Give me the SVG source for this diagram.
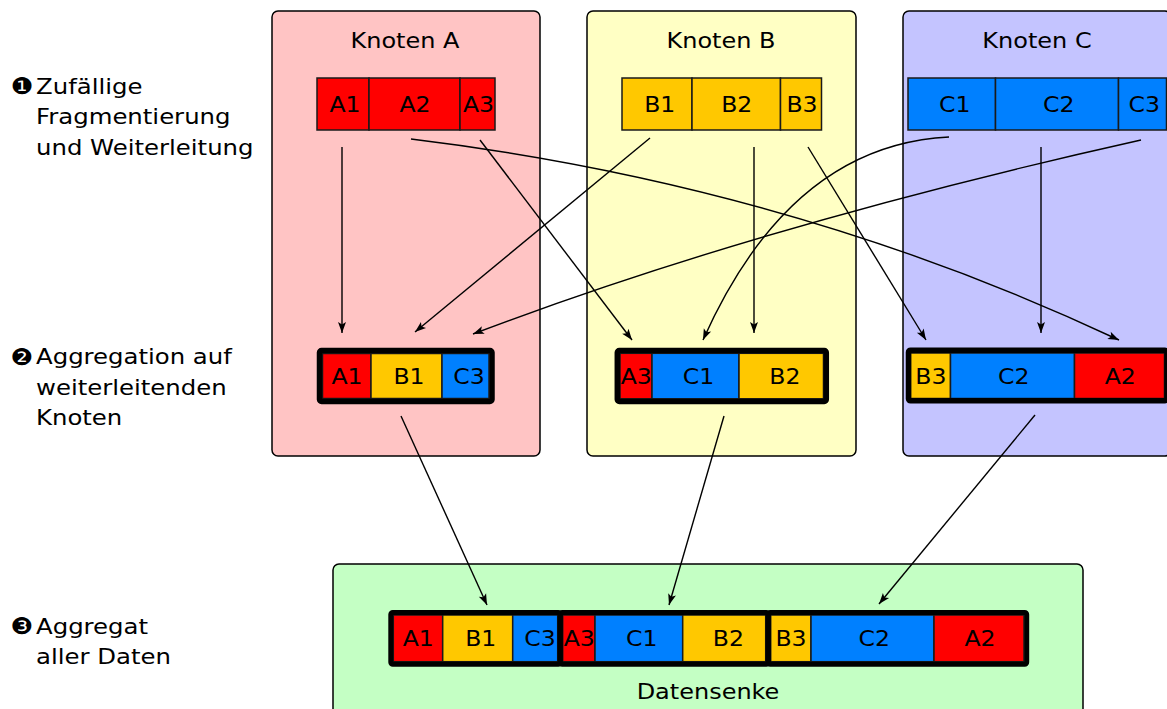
<svg xmlns="http://www.w3.org/2000/svg" width="1167" height="709" viewBox="0 0 1167 709">
  <style>
    text { font-family: "DejaVu Sans", "Liberation Sans", sans-serif; font-size: 20.5px; fill: #000; }
    .c { text-anchor: middle; }
    .step { font-size: 21.2px; }
    .bullet { font-size: 23px; }
    .node { stroke: #000; stroke-width: 1.5; }
    .frag { stroke: #1a1a1a; stroke-width: 1.5; }
    .agg { fill: none; stroke: #000; stroke-width: 5.5; stroke-linejoin: round; }
    .r { fill: #ff0000; }
    .y { fill: #ffc800; }
    .b { fill: #0080ff; }
    .edge { fill: none; stroke: #000; stroke-width: 1.4; marker-end: url(#arrow); }
  </style>
  <defs>
    <marker id="arrow" markerUnits="userSpaceOnUse" markerWidth="14" markerHeight="10" viewBox="-12 -5 14 10" refX="0" refY="0" orient="auto">
      <path d="M0,0 L-11,-4 L-8.5,0 L-11,4 Z" fill="#000"/>
    </marker>
  </defs>

  <rect width="1167" height="709" fill="#fff"/>

  <!-- step labels on the left -->
  <g id="labels">
    <text class="bullet" transform="translate(10.5,94) scale(1.1,1)">❶</text>
    <text class="step" transform="translate(36,93.5) scale(1.15,1)">Zufällige</text>
    <text class="step" transform="translate(36,124) scale(1.15,1)">Fragmentierung</text>
    <text class="step" transform="translate(36,154.5) scale(1.15,1)">und Weiterleitung</text>
    <text class="bullet" transform="translate(10.5,364.5) scale(1.1,1)">❷</text>
    <text class="step" transform="translate(36,364) scale(1.15,1)">Aggregation auf</text>
    <text class="step" transform="translate(36,394.5) scale(1.15,1)">weiterleitenden</text>
    <text class="step" transform="translate(36,425) scale(1.15,1)">Knoten</text>
    <text class="bullet" transform="translate(10.5,634) scale(1.1,1)">❸</text>
    <text class="step" transform="translate(36,633.5) scale(1.15,1)">Aggregat</text>
    <text class="step" transform="translate(36,664) scale(1.15,1)">aller Daten</text>
  </g>

  <!-- Knoten A -->
  <g id="knoten-a">
    <rect class="node" x="272" y="11" width="268" height="445" rx="6" fill="#ffc4c4"/>
    <text class="c" transform="translate(405,48) scale(1.17,1)">Knoten A</text>
    <rect class="frag r" x="317" y="78" width="52" height="52"/>
    <rect class="frag r" x="369" y="78" width="91" height="52"/>
    <rect class="frag r" x="460" y="78" width="35" height="52"/>
    <text class="c" transform="translate(345,112) scale(1.15,1)">A1</text>
    <text class="c" transform="translate(415,112) scale(1.15,1)">A2</text>
    <text class="c" transform="translate(478.5,112) scale(1.15,1)">A3</text>
    <rect class="frag r" x="322.5" y="353.5" width="48.5" height="45"/>
    <rect class="frag y" x="371" y="353.5" width="71" height="45"/>
    <rect class="frag b" x="442" y="353.5" width="47" height="45"/>
    <rect class="agg" x="319.5" y="350.5" width="172.5" height="51" rx="2"/>
    <text class="c" transform="translate(347,383.5) scale(1.15,1)">A1</text>
    <text class="c" transform="translate(409,383.5) scale(1.15,1)">B1</text>
    <text class="c" transform="translate(469,383.5) scale(1.15,1)">C3</text>
  </g>

  <!-- Knoten B -->
  <g id="knoten-b">
    <rect class="node" x="587" y="11" width="269" height="445" rx="6" fill="#ffffc4"/>
    <text class="c" transform="translate(721,48) scale(1.17,1)">Knoten B</text>
    <rect class="frag y" x="622" y="78" width="70" height="52"/>
    <rect class="frag y" x="692" y="78" width="88.5" height="52"/>
    <rect class="frag y" x="780.5" y="78" width="41" height="52" stroke="#555"/>
    <text class="c" transform="translate(659.7,112) scale(1.15,1)">B1</text>
    <text class="c" transform="translate(736.7,112) scale(1.15,1)">B2</text>
    <text class="c" transform="translate(802,112) scale(1.15,1)">B3</text>
    <rect class="frag r" x="620" y="353.3" width="32" height="45.5"/>
    <rect class="frag b" x="652" y="353.3" width="87" height="45.5"/>
    <rect class="frag y" x="739" y="353.3" width="84.5" height="45.5"/>
    <rect class="agg" x="617.3" y="350.5" width="209" height="51" rx="2"/>
    <text class="c" transform="translate(636.3,383.5) scale(1.15,1)">A3</text>
    <text class="c" transform="translate(698.5,383.5) scale(1.15,1)">C1</text>
    <text class="c" transform="translate(784.8,383.5) scale(1.15,1)">B2</text>
  </g>

  <!-- Knoten C -->
  <g id="knoten-c">
    <rect class="node" x="903" y="11" width="268" height="445" rx="6" fill="#c4c4ff"/>
    <text class="c" transform="translate(1037,48) scale(1.17,1)">Knoten C</text>
    <rect class="frag b" x="908" y="78" width="87.5" height="52"/>
    <rect class="frag b" x="995.5" y="78" width="123" height="52"/>
    <rect class="frag b" x="1118.5" y="78" width="48" height="52"/>
    <text class="c" transform="translate(954.7,112) scale(1.15,1)">C1</text>
    <text class="c" transform="translate(1058.7,112) scale(1.15,1)">C2</text>
    <text class="c" transform="translate(1144.3,112) scale(1.15,1)">C3</text>
    <rect class="frag y" x="910.5" y="353" width="40" height="45.5"/>
    <rect class="frag b" x="950.5" y="353" width="124" height="45.5"/>
    <rect class="frag r" x="1074.5" y="353" width="90" height="45.5"/>
    <rect class="agg" x="908.5" y="350.2" width="258.5" height="50.6" rx="2"/>
    <text class="c" transform="translate(930.8,384) scale(1.15,1)">B3</text>
    <text class="c" transform="translate(1013.8,384) scale(1.15,1)">C2</text>
    <text class="c" transform="translate(1120.3,384) scale(1.15,1)">A2</text>
  </g>

  <!-- Datensenke -->
  <g id="datensenke">
    <rect class="node" x="333" y="564" width="750" height="160" rx="6" fill="#c4ffc4"/>
    <text class="c" transform="translate(708,699) scale(1.17,1)">Datensenke</text>
    <rect class="frag r" x="393.3" y="615" width="49.4" height="46.7"/>
    <rect class="frag y" x="442.7" y="615" width="70" height="46.7"/>
    <rect class="frag b" x="512.7" y="615" width="45" height="46.7"/>
    <rect class="frag r" x="562.7" y="615" width="32.3" height="46.7"/>
    <rect class="frag b" x="595" y="615" width="87.7" height="46.7"/>
    <rect class="frag y" x="682.7" y="615" width="83" height="46.7"/>
    <rect class="frag y" x="770.7" y="615" width="40.3" height="46.7"/>
    <rect class="frag b" x="811" y="615" width="123" height="46.7"/>
    <rect class="frag r" x="934" y="615" width="90" height="46.7"/>
    <rect class="agg" x="390.8" y="612.5" width="169.4" height="51.7" rx="2" style="stroke-width:5"/>
    <rect class="agg" x="560.2" y="612.5" width="208" height="51.7" rx="2" style="stroke-width:5"/>
    <rect class="agg" x="768.2" y="612.5" width="258.5" height="51.7" rx="2" style="stroke-width:5"/>
    <text class="c" transform="translate(418.3,645.5) scale(1.15,1)">A1</text>
    <text class="c" transform="translate(480.7,645.5) scale(1.15,1)">B1</text>
    <text class="c" transform="translate(540,645.5) scale(1.15,1)">C3</text>
    <text class="c" transform="translate(579.3,645.5) scale(1.15,1)">A3</text>
    <text class="c" transform="translate(641.7,645.5) scale(1.15,1)">C1</text>
    <text class="c" transform="translate(728.3,645.5) scale(1.15,1)">B2</text>
    <text class="c" transform="translate(791,645.5) scale(1.15,1)">B3</text>
    <text class="c" transform="translate(874.3,645.5) scale(1.15,1)">C2</text>
    <text class="c" transform="translate(980,645.5) scale(1.15,1)">A2</text>
  </g>

  <!-- fragment routing -->
  <g id="connectors">
    <path class="edge" d="M342,147 L342,333"/>
    <path class="edge" d="M411,139 Q790,185 1119,340"/>
    <path class="edge" d="M480,140 L632,340"/>
    <path class="edge" d="M650,138 L415,332"/>
    <path class="edge" d="M754,147 L754,333"/>
    <path class="edge" d="M808,147 L926,340"/>
    <path class="edge" d="M949,137 Q790,145 703,340"/>
    <path class="edge" d="M1041,147 L1041,333"/>
    <path class="edge" d="M1141,140 Q760,225 473,334"/>
    <path class="edge" d="M401,416 L487,605"/>
    <path class="edge" d="M724,416 L669,605"/>
    <path class="edge" d="M1035,415 L879,604"/>
  </g>
</svg>
